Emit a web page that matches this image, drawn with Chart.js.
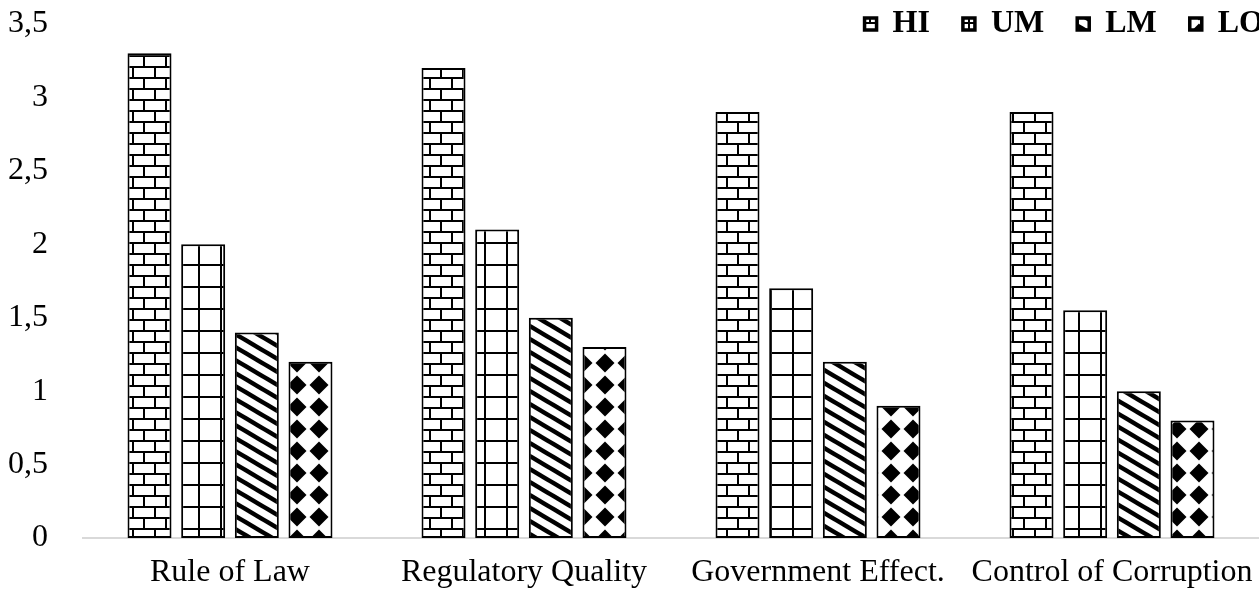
<!DOCTYPE html>
<html>
<head>
<meta charset="utf-8">
<script src="https://cdn.jsdelivr.net/npm/chart.js@4.4.1/dist/chart.umd.min.js"></script>
<style>
html, body { margin: 0; padding: 0; background: #fff; }
#wrap { width: 1259px; height: 590px; position: relative; }
</style>
</head>
<body>
<div id="wrap"><canvas id="chart"></canvas></div>
<script>
// 数据
const categories = ['Rule of Law', 'Regulatory Quality', 'Government Effect.', 'Control of Corruption'];
const seriesNames = ['HI', 'UM', 'LM', 'LO'];
const hiValues = [3.3, 3.2, 2.9, 2.9];
const umValues = [2.0, 2.1, 1.7, 1.55];
const lmValues = [1.4, 1.5, 1.2, 1.0];
const loValues = [1.2, 1.3, 0.9, 0.8];
const yTickLabels = ['0', '0,5', '1', '1,5', '2', '2,5', '3', '3,5'];

const canvas = document.getElementById('chart');
const ctx = canvas.getContext('2d');

// 图案填充
function makePattern(w, h, draw) {
    const c = document.createElement('canvas');
    c.width = w;
    c.height = h;
    const g = c.getContext('2d');
    g.fillStyle = '#fff';
    g.fillRect(0, 0, w, h);
    g.fillStyle = '#000';
    g.strokeStyle = '#000';
    draw(g, w, h);
    return ctx.createPattern(c, 'repeat');
}

const brickPattern = makePattern(22, 22, g => {
    g.fillRect(0, 0, 22, 2);
    g.fillRect(0, 11, 22, 2);
    g.fillRect(0, 0, 2, 11);
    g.fillRect(11, 11, 2, 11);
});

const gridPattern = makePattern(22, 22, g => {
    g.fillRect(0, 0, 22, 2);
    g.fillRect(0, 0, 2, 22);
});

const stripePattern = makePattern(22, 13, g => {
    g.lineWidth = 4.5;
    for (let k = -1; k <= 1; k++) {
        g.beginPath();
        g.moveTo(-22, -13 + k * 13);
        g.lineTo(44, 26 + k * 13);
        g.stroke();
    }
});

const diamondPattern = makePattern(22, 22, g => {
    g.beginPath();
    g.moveTo(11, 1.5);
    g.lineTo(20.5, 11);
    g.lineTo(11, 20.5);
    g.lineTo(1.5, 11);
    g.closePath();
    g.fill();
});

const patterns = [brickPattern, gridPattern, stripePattern, diamondPattern];
const seriesValues = [hiValues, umValues, lmValues, loValues];

// 图例位置微调（右上角，部分超出画布）
const legendShift = {
    id: 'legendShift',
    afterLayout(chart) {
        const lg = chart.legend;
        lg.top = -25;
        lg.bottom = 70;
        lg.left += 38;
        lg.right += 38;
    }
};

Chart.defaults.font.family = "'Liberation Serif', 'Times New Roman', serif";
Chart.defaults.color = '#000';

new Chart(ctx, {
    type: 'bar',
    data: {
        labels: categories,
        datasets: seriesNames.map((name, i) => ({
            label: name,
            data: seriesValues[i],
            backgroundColor: patterns[i],
            borderColor: '#000',
            borderWidth: 2,
            borderSkipped: false
        }))
    },
    options: {
        responsive: true,
        maintainAspectRatio: false,
        animation: false,
        layout: { padding: 0 },
        categoryPercentage: 0.73,
        barPercentage: 0.82,
        scales: {
            x: {
                grid: { display: false, drawTicks: false },
                border: { display: true, color: '#d9d9d9', width: 2 },
                ticks: {
                    font: { size: 32 },
                    color: '#000',
                    padding: 15,
                    maxRotation: 0,
                    autoSkip: false
                },
                afterFit: s => {
                    s.height = 52;
                    s.paddingLeft = 0;
                    s.paddingRight = 0;
                }
            },
            y: {
                min: 0,
                max: 3.5,
                grid: { display: false, drawTicks: false },
                border: { display: false },
                ticks: {
                    stepSize: 0.5,
                    font: { size: 32 },
                    color: '#000',
                    padding: 35,
                    callback: (v, i) => yTickLabels[i]
                },
                afterFit: s => {
                    s.width = 83;
                    s.paddingTop = 19;
                    s.paddingBottom = 0;
                }
            }
        },
        plugins: {
            legend: {
                position: 'top',
                align: 'end',
                maxHeight: 24,
                labels: {
                    boxWidth: 12,
                    boxHeight: 12,
                    padding: 33,
                    color: '#000',
                    font: { size: 32, weight: 'bold' },
                    generateLabels: chart =>
                        Chart.defaults.plugins.legend.labels.generateLabels(chart)
                            .map(item => ({ ...item, lineWidth: 3.5 }))
                }
            },
            tooltip: { enabled: false }
        }
    },
    plugins: [legendShift]
});
</script>
</body>
</html>
